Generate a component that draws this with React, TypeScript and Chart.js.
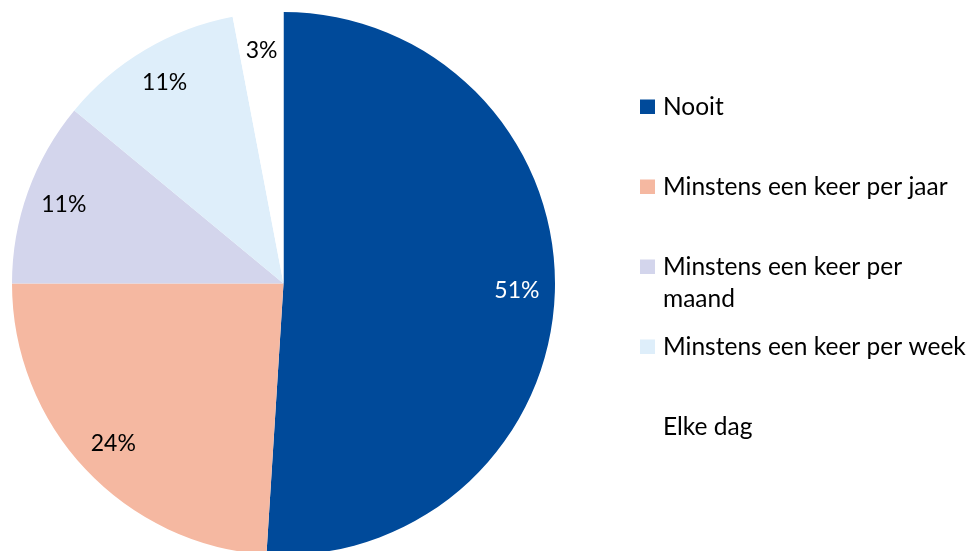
import React, { useEffect, useRef } from "react";
import { Chart, registerables } from "chart.js";

Chart.register(...registerables);

const categories: (string | string[])[] = [
  "Nooit",
  "Minstens een keer per jaar",
  ["Minstens een keer per", "maand"],
  "Minstens een keer per week",
  "Elke dag",
];
const values: number[] = [51, 24, 11, 11, 3];
const valueLabels: string[] = ["51%", "24%", "11%", "11%", "3%"];
const colors: string[] = ["#004A9A", "#F5B8A1", "#D3D5EC", "#DEEEFA", "#FFFFFF"];
const labelColors: string[] = ["#FFFFFF", "#000000", "#000000", "#000000", "#000000"];

const FONT = "Lato, 'Open Sans', sans-serif";

const labelPlugin = {
  id: "sliceLabels",
  afterDatasetsDraw(chart: any) {
    const ctx = chart.ctx;
    const meta = chart.getDatasetMeta(0);
    ctx.save();
    ctx.font = `23px ${FONT}`;
    ctx.textAlign = "center";
    ctx.textBaseline = "middle";
    meta.data.forEach((arc: any, i: number) => {
      const { x, y, startAngle, endAngle, outerRadius } = arc.getProps(
        ["x", "y", "startAngle", "endAngle", "outerRadius"],
        true
      );
      const mid = (startAngle + endAngle) / 2;
      const d = outerRadius * 0.86;
      ctx.fillStyle = labelColors[i];
      ctx.fillText(valueLabels[i], x + Math.cos(mid) * d, y + Math.sin(mid) * d);
    });
    ctx.restore();
  },
};

const legendPlugin = {
  id: "sideLegend",
  afterDraw(chart: any) {
    const ctx = chart.ctx;
    ctx.save();
    ctx.font = `24.5px ${FONT}`;
    ctx.textAlign = "left";
    ctx.textBaseline = "alphabetic";
    const boxX = 640;
    const textX = 663;
    const firstBaseline = 115;
    const step = 80;
    const lineH = 32;
    categories.forEach((lab, i) => {
      const base = firstBaseline + i * step;
      ctx.fillStyle = colors[i];
      ctx.fillRect(boxX, base - 15.5, 15, 14.5);
      ctx.fillStyle = "#000000";
      const lines = Array.isArray(lab) ? lab : [lab];
      lines.forEach((ln, j) => ctx.fillText(ln, textX, base + j * lineH));
    });
    ctx.restore();
  },
};

export default function App() {
  const ref = useRef<HTMLCanvasElement | null>(null);
  useEffect(() => {
    if (!ref.current) return;
    const chart = new Chart(ref.current, {
      type: "pie",
      data: {
        labels: categories as any,
        datasets: [
          {
            data: values,
            backgroundColor: colors,
            borderWidth: 0,
          },
        ],
      },
      options: {
        responsive: false,
        animation: false,
        layout: { padding: { left: 12, top: 12, bottom: 12, right: 419 } },
        plugins: {
          legend: { display: false },
          tooltip: { enabled: false },
        },
      },
      plugins: [labelPlugin, legendPlugin],
    });
    return () => chart.destroy();
  }, []);
  return (
    <div
      style={{
        position: "absolute",
        left: 0,
        top: 0,
        width: 974,
        height: 551,
        overflow: "hidden",
        background: "#fff",
      }}
    >
      <canvas ref={ref} width={974} height={567} style={{ display: "block" }} />
    </div>
  );
}
